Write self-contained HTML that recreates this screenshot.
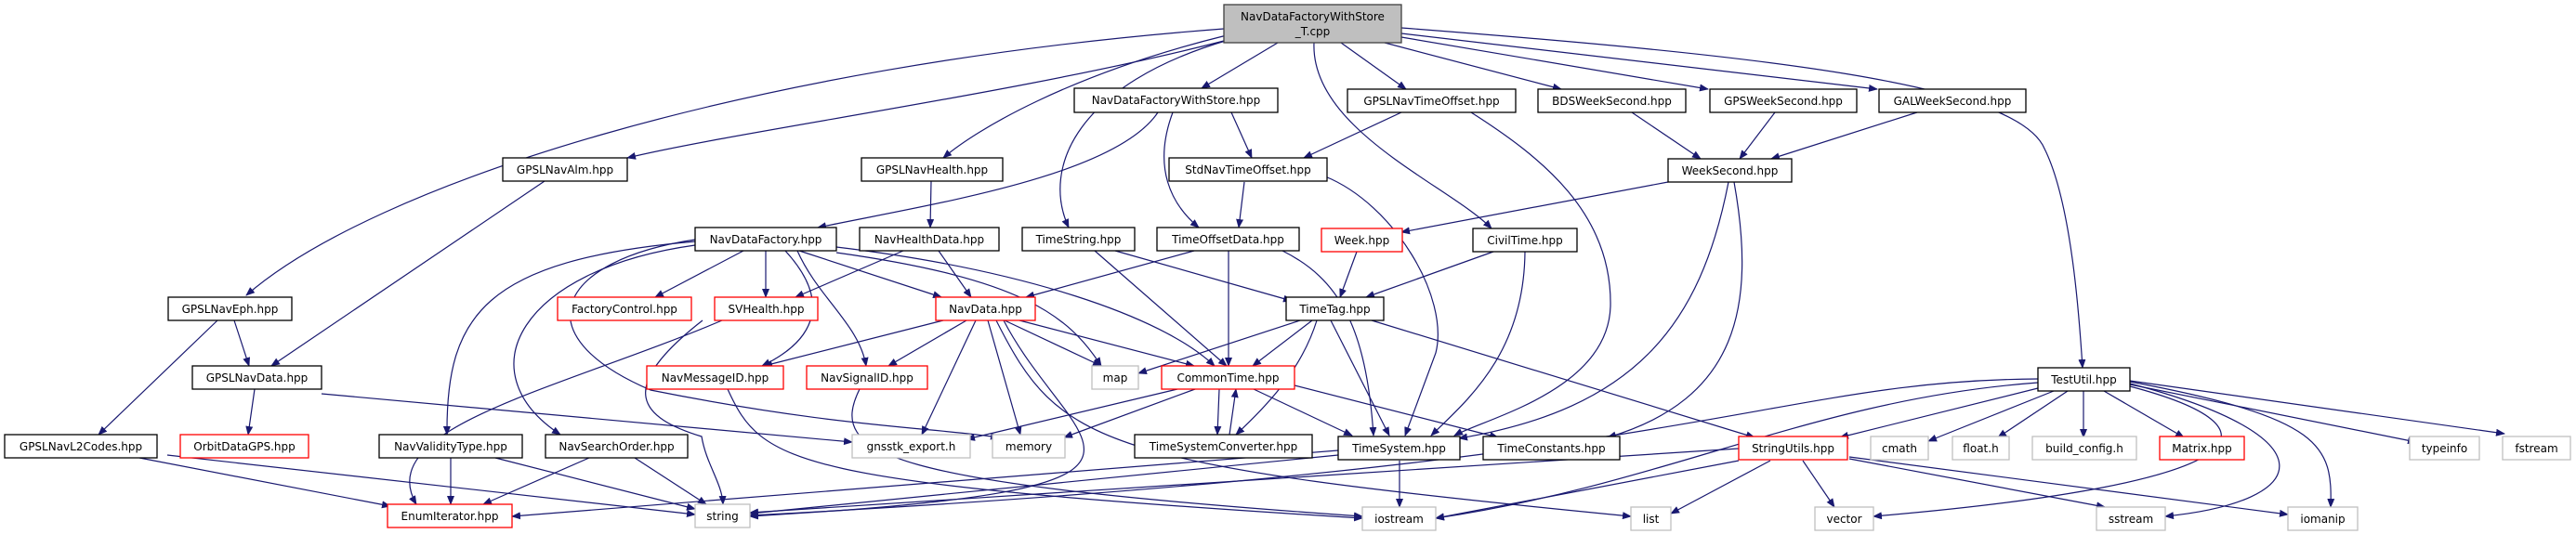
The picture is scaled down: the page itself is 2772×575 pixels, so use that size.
<!DOCTYPE html>
<html><head><meta charset="utf-8"><style>
html,body{margin:0;padding:0;background:#fff}
svg{display:block}
text{font-family:"DejaVu Sans","Liberation Sans",sans-serif;font-size:12px;fill:#000}
</style></head><body>
<svg width="2772" height="575" viewBox="0 0 2772 575" xmlns="http://www.w3.org/2000/svg">
<defs><marker id="a" markerWidth="10" markerHeight="8" refX="9" refY="4" orient="auto" markerUnits="userSpaceOnUse"><path d="M0,0 L10,4 L0,8 z" fill="#191970"/></marker></defs>
<g fill="none" stroke="#191970" stroke-width="1.2" marker-end="url(#a)">
<path d="M1317,31 C800,70 400,200 265,318"/>
<path d="M1317,44 C1100,100 800,140 675,170"/>
<path d="M1320,38 C1150,80 1050,140 1015,170"/>
<path d="M1322,43 C1160,90 1120,180 1150,245"/>
<path d="M1375,46 L1293,95"/>
<path d="M1443,46 L1513,96"/>
<path d="M1414,46 C1410,140 1560,200 1605,246"/>
<path d="M1490,46 L1680,96"/>
<path d="M1508,40 L1838,96"/>
<path d="M1508,36 L2020,96"/>
<path d="M1508,30 C1900,60 2170,90 2200,160 C2230,220 2238,350 2241,396"/>
<path d="M1246,121 C1200,190 1000,220 880,245"/>
<path d="M1325,121 L1347,170"/>
<path d="M1262,121 C1240,180 1260,220 1290,245"/>
<path d="M1508,121 L1403,170"/>
<path d="M1583,121 C1660,170 1735,230 1733,330 C1730,420 1600,450 1565,469"/>
<path d="M1756,121 L1830,171"/>
<path d="M1910,121 L1872,171"/>
<path d="M2063,121 L1906,171"/>
<path d="M1795,196 L1508,250"/>
<path d="M1860,196 C1830,350 1760,440 1570,472"/>
<path d="M1866,196 C1890,330 1870,430 1730,471"/>
<path d="M586,195 L292,394"/>
<path d="M1002,195 L1001,245"/>
<path d="M1339,196 L1333,245"/>
<path d="M1426,190 C1500,220 1560,320 1545,380 L1512,469"/>
<path d="M800,270 L705,320"/>
<path d="M824,270 L824,320"/>
<path d="M860,270 L1013,320"/>
<path d="M845,270 C900,330 870,370 820,394"/>
<path d="M858,270 C880,320 925,350 932,394"/>
<path d="M900,272 C1100,300 1150,340 1185,394"/>
<path d="M900,266 C1100,290 1250,340 1307,394"/>
<path d="M748,260 C520,280 480,340 481,468"/>
<path d="M748,264 C560,290 500,400 603,468"/>
<path d="M748,258 C600,280 560,360 700,420 C900,460 1000,460 1075,471"/>
<path d="M972,270 L856,320"/>
<path d="M1010,270 L1045,320"/>
<path d="M1200,270 L1390,324"/>
<path d="M1178,270 L1320,394"/>
<path d="M1285,270 L1104,320"/>
<path d="M1322,270 L1322,394"/>
<path d="M1380,270 C1440,300 1470,350 1478,469"/>
<path d="M1460,271 L1442,320"/>
<path d="M1607,271 L1470,320"/>
<path d="M1641,271 C1640,380 1580,430 1540,469"/>
<path d="M252,345 L268,394"/>
<path d="M234,345 L106,468"/>
<path d="M274,419 L267,468"/>
<path d="M346,424 L917,476"/>
<path d="M777,345 C600,420 400,460 448,543"/>
<path d="M756,345 C660,420 690,450 755,470 C760,500 777,520 778,543"/>
<path d="M1015,345 L822,394"/>
<path d="M1040,345 L956,394"/>
<path d="M1050,345 L992,468"/>
<path d="M1063,345 L1098,468"/>
<path d="M1081,345 L1185,394"/>
<path d="M1097,345 L1285,394"/>
<path d="M1072,345 C1140,480 1180,500 1755,556"/>
<path d="M1080,345 C1150,480 1300,520 900,550 L807,556"/>
<path d="M1399,345 L1225,402"/>
<path d="M1412,345 L1348,394"/>
<path d="M1432,345 L1495,469"/>
<path d="M1417,345 C1400,400 1360,440 1330,468"/>
<path d="M1476,345 L1888,471"/>
<path d="M783,419 C820,500 850,520 1466,558"/>
<path d="M925,419 C890,490 950,520 1466,556"/>
<path d="M1267,419 L1040,473"/>
<path d="M1286,419 L1145,471"/>
<path d="M1312,419 L1310,468"/>
<path d="M1323,468 L1330,419"/>
<path d="M1349,419 L1455,469"/>
<path d="M1393,415 L1612,471"/>
<path d="M150,493 L420,545"/>
<path d="M180,490 L748,554"/>
<path d="M485,493 L485,543"/>
<path d="M533,493 L748,548"/>
<path d="M634,493 L520,543"/>
<path d="M683,493 L760,543"/>
<path d="M1440,485 L551,556"/>
<path d="M1440,490 L807,553"/>
<path d="M1506,496 L1506,546"/>
<path d="M1871,483 L807,552"/>
<path d="M1871,496 L1545,558"/>
<path d="M1905,496 L1798,553"/>
<path d="M1940,496 L1974,546"/>
<path d="M1990,494 L2265,546"/>
<path d="M1990,492 L2462,554"/>
<path d="M2193,418 L1980,471"/>
<path d="M2210,421 L2075,475"/>
<path d="M2225,421 L2150,471"/>
<path d="M2242,421 L2242,471"/>
<path d="M2264,421 L2350,471"/>
<path d="M2292,414 L2600,476"/>
<path d="M2292,410 L2695,467"/>
<path d="M2193,412 C1950,430 1800,520 1545,558"/>
<path d="M2193,408 C1900,410 1850,500 807,555"/>
<path d="M2292,416 C2460,460 2440,520 2016,556"/>
<path d="M2292,413 C2510,470 2490,540 2330,556"/>
<path d="M2292,411 C2500,450 2510,480 2508,546"/>
</g>
<g stroke-width="1.3">
<rect x="1317" y="5" width="191" height="41" fill="#bfbfbf" stroke="#404040"/>
<text x="1412.5" y="22" text-anchor="middle">NavDataFactoryWithStore</text>
<text x="1412.5" y="38" text-anchor="middle">_T.cpp</text>
</g>
<g stroke-width="1.3">
<g fill="#fff" stroke="#000">
<rect x="1156" y="95" width="219" height="26"/>
<rect x="1450" y="96" width="181" height="25"/>
<rect x="1655" y="96" width="159" height="25"/>
<rect x="1840" y="96" width="158" height="25"/>
<rect x="2022" y="96" width="158" height="25"/>
<rect x="541" y="170" width="134" height="25"/>
<rect x="927" y="170" width="152" height="25"/>
<rect x="1258" y="170" width="170" height="25"/>
<rect x="1795" y="171" width="133" height="25"/>
<rect x="748" y="245" width="152" height="25"/>
<rect x="925" y="245" width="150" height="25"/>
<rect x="1100" y="245" width="121" height="25"/>
<rect x="1245" y="245" width="153" height="25"/>
<rect x="1585" y="246" width="112" height="25"/>
<rect x="181" y="320" width="133" height="25"/>
<rect x="1384" y="320" width="105" height="25"/>
<rect x="207" y="394" width="139" height="25"/>
<rect x="2193" y="396" width="99" height="25"/>
<rect x="5" y="468" width="164" height="25"/>
<rect x="408" y="468" width="154" height="25"/>
<rect x="587" y="468" width="153" height="25"/>
<rect x="1221" y="468" width="191" height="25"/>
<rect x="1440" y="470" width="131" height="25"/>
<rect x="1596" y="470" width="147" height="25"/>
</g>
<g fill="#fff" stroke="#ff0000">
<rect x="1422" y="246" width="87" height="25"/>
<rect x="600" y="320" width="144" height="25"/>
<rect x="769" y="320" width="111" height="25"/>
<rect x="1007" y="320" width="107" height="25"/>
<rect x="696" y="394" width="147" height="25"/>
<rect x="868" y="394" width="130" height="25"/>
<rect x="1250" y="394" width="143" height="25"/>
<rect x="194" y="468" width="138" height="25"/>
<rect x="1871" y="470" width="117" height="25"/>
<rect x="2324" y="470" width="91" height="25"/>
<rect x="417" y="543" width="134" height="25"/>
</g>
<g fill="#fff" stroke="#bfbfbf">
<rect x="1175" y="394" width="50" height="25"/>
<rect x="917" y="468" width="127" height="25"/>
<rect x="1068" y="468" width="78" height="25"/>
<rect x="2013" y="470" width="62" height="25"/>
<rect x="2101" y="470" width="61" height="25"/>
<rect x="2187" y="470" width="112" height="25"/>
<rect x="2593" y="470" width="75" height="25"/>
<rect x="2693" y="470" width="73" height="25"/>
<rect x="748" y="543" width="59" height="25"/>
<rect x="1466" y="546" width="79" height="25"/>
<rect x="1755" y="546" width="43" height="25"/>
<rect x="1953" y="546" width="63" height="25"/>
<rect x="2256" y="546" width="74" height="25"/>
<rect x="2462" y="546" width="75" height="25"/>
</g>
</g>
<g text-anchor="middle">
<text x="1265.5" y="112">NavDataFactoryWithStore.hpp</text>
<text x="1540.5" y="113">GPSLNavTimeOffset.hpp</text>
<text x="1734.5" y="113">BDSWeekSecond.hpp</text>
<text x="1919" y="113">GPSWeekSecond.hpp</text>
<text x="2101" y="113">GALWeekSecond.hpp</text>
<text x="608" y="187">GPSLNavAlm.hpp</text>
<text x="1003" y="187">GPSLNavHealth.hpp</text>
<text x="1343" y="187">StdNavTimeOffset.hpp</text>
<text x="1861.5" y="188">WeekSecond.hpp</text>
<text x="824" y="262">NavDataFactory.hpp</text>
<text x="1000" y="262">NavHealthData.hpp</text>
<text x="1160.5" y="262">TimeString.hpp</text>
<text x="1321.5" y="262">TimeOffsetData.hpp</text>
<text x="1465.5" y="263">Week.hpp</text>
<text x="1641" y="263">CivilTime.hpp</text>
<text x="247.5" y="337">GPSLNavEph.hpp</text>
<text x="672" y="337">FactoryControl.hpp</text>
<text x="824.5" y="337">SVHealth.hpp</text>
<text x="1060.5" y="337">NavData.hpp</text>
<text x="1436.5" y="337">TimeTag.hpp</text>
<text x="276.5" y="411">GPSLNavData.hpp</text>
<text x="769.5" y="411">NavMessageID.hpp</text>
<text x="933" y="411">NavSignalID.hpp</text>
<text x="1200" y="411">map</text>
<text x="1321.5" y="411">CommonTime.hpp</text>
<text x="2242.5" y="413">TestUtil.hpp</text>
<text x="87" y="485">GPSLNavL2Codes.hpp</text>
<text x="263" y="485">OrbitDataGPS.hpp</text>
<text x="485" y="485">NavValidityType.hpp</text>
<text x="663.5" y="485">NavSearchOrder.hpp</text>
<text x="980.5" y="485">gnsstk_export.h</text>
<text x="1107" y="485">memory</text>
<text x="1316.5" y="485">TimeSystemConverter.hpp</text>
<text x="1505.5" y="487">TimeSystem.hpp</text>
<text x="1669.5" y="487">TimeConstants.hpp</text>
<text x="1929.5" y="487">StringUtils.hpp</text>
<text x="2044" y="487">cmath</text>
<text x="2131.5" y="487">float.h</text>
<text x="2243" y="487">build_config.h</text>
<text x="2369.5" y="487">Matrix.hpp</text>
<text x="2630.5" y="487">typeinfo</text>
<text x="2729.5" y="487">fstream</text>
<text x="484" y="560">EnumIterator.hpp</text>
<text x="777.5" y="560">string</text>
<text x="1505.5" y="563">iostream</text>
<text x="1776.5" y="563">list</text>
<text x="1984.5" y="563">vector</text>
<text x="2293" y="563">sstream</text>
<text x="2499.5" y="563">iomanip</text>
</g>
</svg>
</body></html>
